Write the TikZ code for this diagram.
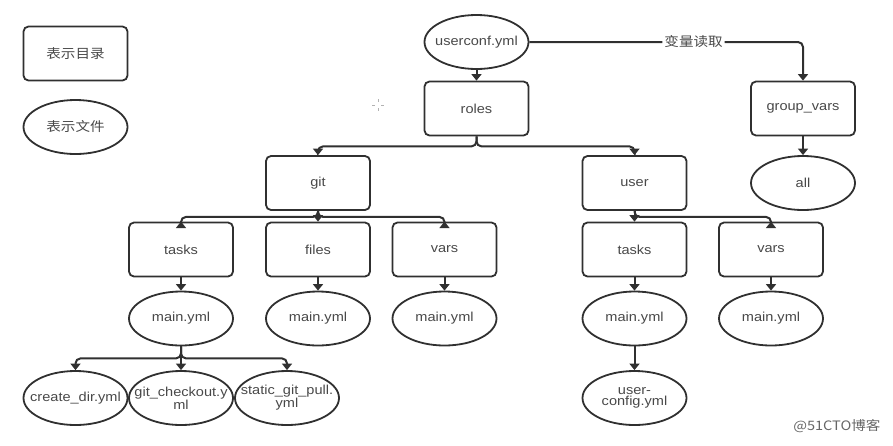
\documentclass[tikz,border=0pt]{standalone}
\usepackage{fontspec}
\setmainfont{Liberation Sans}[FakeStretch=1.12]
\newfontfamily\cjk{Noto Sans CJK SC}[FakeStretch=1.12]
\usetikzlibrary{shapes.geometric,arrows.meta}
\definecolor{edgecol}{HTML}{303030}
\definecolor{txtcol}{HTML}{484848}
\begin{document}
\begin{tikzpicture}[x=1pt,y=-1pt,
  txt/.style={font=\fontsize{13}{11.5}\selectfont, text=txtcol, align=center, inner sep=0pt},
  dirnode/.style={draw=edgecol, line width=1.8pt, rounded corners=5pt, minimum width=104pt, minimum height=54pt, inner sep=0pt, txt},
  filenode/.style={draw=edgecol, line width=1.8pt, ellipse, minimum width=104pt, minimum height=54pt, inner sep=0pt, label={[txt]center:#1}},
  conn/.style={draw=edgecol, line width=2pt, rounded corners=5pt, -{Triangle[width=10pt,length=6.5pt]}}]
\useasboundingbox (0,0) rectangle (893,445);
% legend
\node[dirnode] (legdir) at (75.5,53.5) {\cjk 表示目录};
\node[filenode={\cjk 表示文件}] (legfile) at (75.5,127) {};
% top
\node[filenode={userconf.yml}] (uc) at (476.5,42) {};
\node[dirnode] (roles) at (476.5,108.5) {roles};
\node[dirnode] (gv) at (803,108.5) {group\_vars};
\node[filenode={all}] (all) at (803,183) {};
\node[dirnode] (git) at (318,183) {git};
\node[dirnode] (user) at (634.5,183) {user};
% row 3
\node[dirnode] (gtasks) at (181,249.5) {tasks};
\node[dirnode] (gfiles) at (318,249.5) {files};
\node[dirnode] (gvars) at (444.5,249.5) {vars};
\node[dirnode] (utasks) at (634.5,249.5) {tasks};
\node[dirnode] (uvars) at (771,249.5) {vars};
% row 4
\node[filenode={main.yml}] (gtm) at (181,318.5) {};
\node[filenode={main.yml}] (gfm) at (318,318.5) {};
\node[filenode={main.yml}] (gvm) at (444.5,318.5) {};
\node[filenode={main.yml}] (utm) at (634.5,318.5) {};
\node[filenode={main.yml}] (uvm) at (771,318.5) {};
% row 5
\node[filenode={create\_dir.yml}] (cd) at (75.5,398) {};
\node[filenode={git\_checkout.y\\ml}] (gc) at (181,398) {};
\node[filenode={static\_git\_pull.\\yml}] (sg) at (287,398) {};
\node[filenode={user-\\config.yml}] (ucfg) at (634.5,398) {};
% connectors
\draw[conn] (uc) -- (roles);
\draw[conn] (uc.east) -| node[pos=0.3, fill=white, inner sep=2pt, font=\cjk\fontsize{13}{14}\selectfont, text=txtcol] (lbl) {变量读取} (gv.north);
\draw[conn] (gv) -- (all);
\draw[conn] (roles.south) -- ++(0,10) -| (git.north);
\draw[conn] (roles.south) -- ++(0,10) -| (user.north);
\draw[conn] (git.south) -- ++(0,6) -| (gtasks.north);
\draw[conn] (git.south) -- (gfiles.north);
\draw[conn] (git.south) -- ++(0,6) -| (gvars.north);
\draw[conn] (user.south) -- (utasks.north);
\draw[conn] (user.south) -- ++(0,6) -| (uvars.north);
\draw[conn] (gtasks) -- (gtm);
\draw[conn] (gfiles) -- (gfm);
\draw[conn] (gvars) -- (gvm);
\draw[conn] (utasks) -- (utm);
\draw[conn] (uvars) -- (uvm);
\draw[conn] (gtm.south) -- ++(0,12) -| (cd.north);
\draw[conn] (gtm.south) -- (gc.north);
\draw[conn] (gtm.south) -- ++(0,12) -| (sg.north);
\draw[conn] (utm) -- (ucfg);
% cursor mark
\draw[gray!60, line width=0.6pt] (372,105) -- (375,105) (381,105) -- (384,105) (378,99) -- (378,102) (378,108) -- (378,111);
% watermark
\node[font=\cjk\fontsize{13}{14}\selectfont, text=gray!80!black, anchor=east] (wm) at (884,426) {@51CTO博客};
\end{tikzpicture}
\end{document}
